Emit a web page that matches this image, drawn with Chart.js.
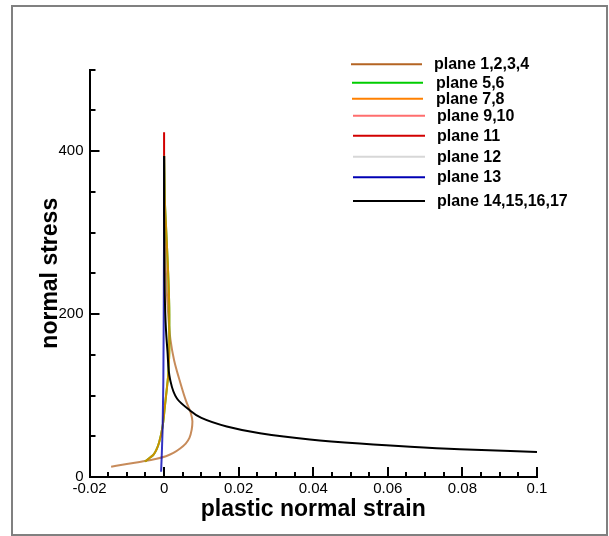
<!DOCTYPE html>
<html>
<head>
<meta charset="utf-8">
<script src="https://cdn.jsdelivr.net/npm/chart.js@4.4.1/dist/chart.umd.min.js"></script>
<style>
html,body{margin:0;padding:0;background:#fff;overflow:hidden}
#wrap{width:609px;height:536px;position:relative}
</style>
</head>
<body>
<div id="wrap"><canvas id="c" width="609" height="536"></canvas></div>
<script>
// ---------------- data ----------------
const seriesLabels = ['plane 1,2,3,4','plane 5,6','plane 7,8','plane 9,10','plane 11','plane 12','plane 13','plane 14,15,16,17'];

const strainP1234 = [-0.0142,-0.0100,-0.0051,-0.0020,0.0005,0.0025,0.0043,0.0058,0.0068,0.0074,0.0076,0.0072,0.0059,0.0042,0.0027,0.0017,0.0011,0.0006,0.0003,0.0001,0.0000];
const stressP1234 = [12.6,16,19.6,22.5,25.5,29.5,35,41,48,58,68,78,93,118,143,169,200,240,280,330,394];

const strainP56 = [-0.0051,-0.0040,-0.0029,-0.0020,-0.0013,-0.0004,0.0002,0.0007,0.0011,0.0014,0.0014,0.0011,0.0006,0.0002,0.0001,0.0000];
const stressP56 = [19,23,27,34,43,62,86,107,125,160,200,250,300,340,365,394];

const strainP78 = [-0.0051,-0.0040,-0.0029,-0.0020,-0.0013,-0.0004,0.0002,0.0007,0.0011,0.0014,0.0014,0.0011,0.0006,0.0002,0.0001,0.0000];
const stressP78 = [19,23,27,34,43,62,86,107,125,160,200,250,300,340,365,394];

const strainP910 = [0,0];
const stressP910 = [320,394];

const strainP11 = [0,0];
const stressP11 = [320,423];

const strainP12 = [0,0];
const stressP12 = [320,394];

const strainP13 = [-0.0008,-0.0006,-0.0004,-0.0002,-0.0001,0,0];
const stressP13 = [6.5,30,58,117,200,320,394];

const strainP14 = [0.1000,0.0793,0.0660,0.0525,0.0391,0.0257,0.0168,0.0100,0.0063,0.0035,0.0016,0.0009,0.0004,0.0001,0,0];
const stressP14 = [30.7,34,37,41,46,53.6,62,72.5,84,96,120,155,190,250,320,394];

const xTickValues = [-0.02,0,0.02,0.04,0.06,0.08,0.1];
const xTickLabels = ['-0.02','0','0.02','0.04','0.06','0.08','0.1'];
const yTickValues = [0,200,400];
const yTickLabels = ['0','200','400'];
const xMinorStep = 0.005;
const yMinorStep = 50;

// ---------------- chart ----------------
const FONT = "'Liberation Sans', Arial, Helvetica, sans-serif";
const legendColors = ['rgb(180,100,35)','rgb(0,205,0)','rgb(255,128,0)','rgb(255,110,110)','rgb(210,0,0)','rgb(215,215,215)','rgb(0,0,180)','rgb(0,0,0)'];
const lineColors   = ['rgba(180,100,35,0.75)','rgb(0,205,0)','rgba(255,128,0,0.8)','rgb(255,110,110)','rgb(210,0,0)','rgb(215,215,215)','rgba(0,0,180,0.8)','rgb(0,0,0)'];
const drawOrder    = [4,3,2,6,5,7,1,0];

const xs = [strainP1234,strainP56,strainP78,strainP910,strainP11,strainP12,strainP13,strainP14];
const ys = [stressP1234,stressP56,stressP78,stressP910,stressP11,stressP12,stressP13,stressP14];

const datasets = seriesLabels.map((lab,i)=>({
  label: lab,
  data: xs[i].map((x,k)=>({x:x, y:ys[i][k]})),
  indexAxis: 'y',
  borderColor: lineColors[i],
  backgroundColor: lineColors[i],
  borderWidth: 2,
  pointRadius: 0,
  cubicInterpolationMode: 'monotone',
  fill: false,
  order: drawOrder[i]
}));

const decoPlugin = {
  id: 'deco',
  beforeDraw(chart){
    const ctx = chart.ctx;
    ctx.save();
    ctx.fillStyle = '#fff';
    ctx.fillRect(0,0,chart.width,chart.height);
    ctx.strokeStyle = '#808080';
    ctx.lineWidth = 2;
    ctx.strokeRect(12,6,595,529);
    ctx.restore();
  },
  afterDraw(chart){
    const ctx = chart.ctx;
    const xS = chart.scales.x, yS = chart.scales.y;
    const area = chart.chartArea;
    ctx.save();
    ctx.strokeStyle = '#000';
    ctx.lineWidth = 2;
    const nx = Math.round((xS.max - xS.min)/xMinorStep);
    for(let k=0;k<=nx;k++){
      const v = xS.min + k*xMinorStep;
      const px = Math.round(xS.getPixelForValue(v));
      const len = (k%4===0)?10:5;
      ctx.beginPath(); ctx.moveTo(px, area.bottom); ctx.lineTo(px, area.bottom-len); ctx.stroke();
    }
    const ny = Math.round((yS.max - yS.min)/yMinorStep);
    for(let k=0;k<=ny;k++){
      const v = yS.min + k*yMinorStep;
      const py = Math.round(yS.getPixelForValue(v));
      const len = (Math.abs(v%200)<1e-9)?10:6;
      ctx.beginPath(); ctx.moveTo(area.left, py); ctx.lineTo(area.left+len, py); ctx.stroke();
    }
    // legend
    const rowY = [64.3,82.7,98.7,115.7,135.7,156.7,177.3,201];
    const lx0 = [351,352,352,353,353,353,353,353];
    const lx1 = [422,423,423,425,425,425,425,425];
    const tx  = [434,436,436,437,437,437,437,437];
    ctx.font = "bold 16px " + FONT;
    ctx.textBaseline = 'alphabetic';
    ctx.textAlign = 'left';
    chart.data.datasets.forEach((ds,i)=>{
      ctx.strokeStyle = legendColors[i];
      ctx.lineWidth = 2;
      ctx.beginPath(); ctx.moveTo(lx0[i], rowY[i]); ctx.lineTo(lx1[i], rowY[i]); ctx.stroke();
      ctx.fillStyle = '#000';
      ctx.fillText(ds.label, tx[i], rowY[i]+5);
    });
    ctx.restore();
  }
};

new Chart(document.getElementById('c'), {
  type: 'line',
  data: { datasets },
  options: {
    responsive: false,
    animation: false,
    devicePixelRatio: 1,
    layout: { padding: { left: 0, top: 69.5, right: 72, bottom: 0 } },
    plugins: { legend: { display: false }, tooltip: { enabled: false } },
    scales: {
      x: {
        type: 'linear', position: 'bottom', min: -0.02, max: 0.1,
        afterBuildTicks: s => { s.ticks = xTickValues.map(v=>({value:v})); },
        afterFit: s => { s.height = 59; },
        ticks: { callback: (v,i)=>xTickLabels[i], font:{family:FONT,size:15}, color:'#000', padding:3, maxRotation:0, autoSkip:false },
        grid: { display:false, drawTicks:false, tickLength:0 },
        border: { display:true, color:'#000', width:2 },
        title: { display:true, text:'plastic normal strain', color:'#000', font:{family:FONT,size:23,weight:'bold'}, padding:{top:0,bottom:12.2} }
      },
      y: {
        type: 'linear', position: 'left', min: 0, max: 500,
        afterBuildTicks: s => { s.ticks = yTickValues.map(v=>({value:v})); },
        afterFit: s => { s.width = 89.5; },
        ticks: { callback: (v,i)=>yTickLabels[i], font:{family:FONT,size:15}, color:'#000', padding:6, autoSkip:false },
        grid: { display:false, drawTicks:false, tickLength:0 },
        border: { display:true, color:'#000', width:2 },
        title: { display:true, text:'normal stress', color:'#000', font:{family:FONT,size:23,weight:'bold'}, padding:{top:36.5,bottom:0} }
      }
    }
  },
  plugins: [decoPlugin]
});
</script>
</body>
</html>
